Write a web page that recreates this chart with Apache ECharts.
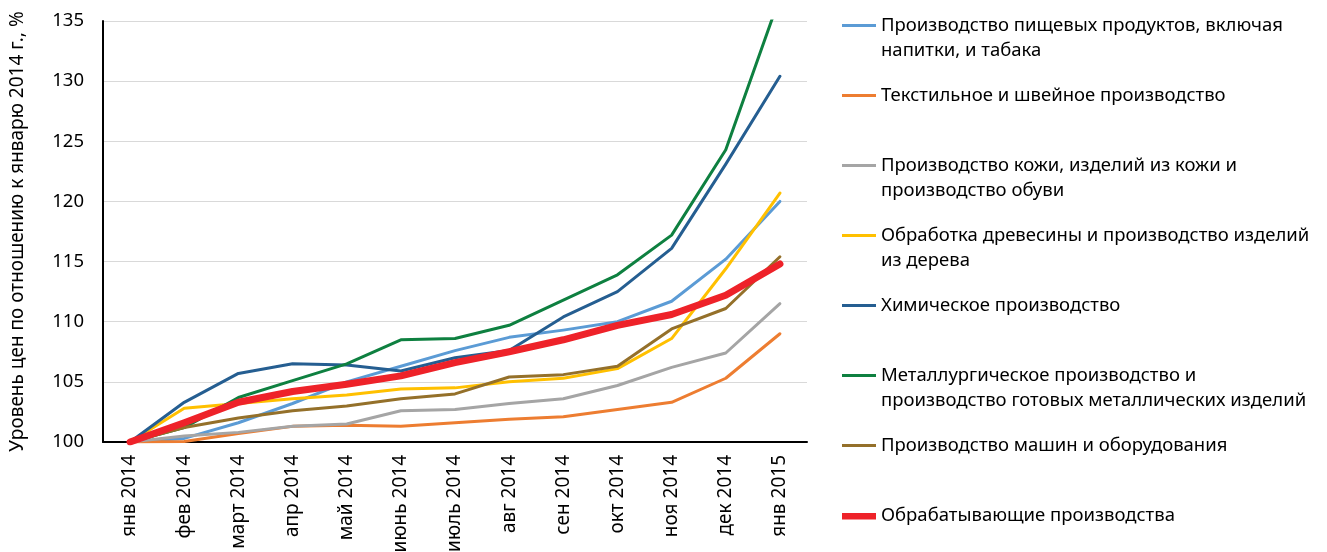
<!DOCTYPE html>
<html>
<head>
<meta charset="utf-8">
<title>Уровень цен</title>
<script src="https://cdn.jsdelivr.net/npm/echarts@6/dist/echarts.min.js"></script>
<style>
  html, body { margin: 0; padding: 0; background: #fff; }
  #chart { width: 1327px; height: 552px; }
</style>
</head>
<body>
<div id="chart"></div>
<script>
// месяцы по оси X
const months = ['янв 2014', 'фев 2014', 'март 2014', 'апр 2014', 'май 2014', 'июнь 2014',
  'июль 2014', 'авг 2014', 'сен 2014', 'окт 2014', 'ноя 2014', 'дек 2014', 'янв 2015']
const yTicks = [100, 105, 110, 115, 120, 125, 130, 135]

// значения, % к январю 2014
const food = [100, 100.3, 101.6, 103.2, 105.0, 106.3, 107.6, 108.7, 109.3, 110.0, 111.7, 115.2, 120.0]
const textile = [100, 100.05, 100.7, 101.3, 101.4, 101.3, 101.6, 101.9, 102.1, 102.7, 103.3, 105.3, 109.0]
const leather = [100, 100.5, 100.8, 101.3, 101.5, 102.6, 102.7, 103.2, 103.6, 104.7, 106.2, 107.4, 111.5]
const wood = [100, 102.8, 103.2, 103.6, 103.9, 104.4, 104.5, 105.0, 105.3, 106.1, 108.6, 114.4, 120.7]
const chemical = [100, 103.3, 105.7, 106.5, 106.4, 105.9, 107.0, 107.6, 110.4, 112.5, 116.1, 123.1, 130.4]
const metal = [100, 101.2, 103.7, 105.1, 106.5, 108.5, 108.6, 109.7, 111.8, 113.9, 117.2, 124.3, 137.0]
const machines = [100, 101.2, 102.0, 102.6, 103.0, 103.6, 104.0, 105.4, 105.6, 106.3, 109.4, 111.1, 115.4]
const manufacturing = [100, 101.6, 103.3, 104.2, 104.8, 105.5, 106.6, 107.5, 108.5, 109.7, 110.6, 112.2, 114.8]

const names = [
  'Производство пищевых продуктов, включая\nнапитки, и табака',
  'Текстильное и швейное производство',
  'Производство кожи, изделий из кожи и\nпроизводство обуви',
  'Обработка древесины и производство изделий\nиз дерева',
  'Химическое производство',
  'Металлургическое производство и\nпроизводство готовых металлических изделий',
  'Производство машин и оборудования',
  'Обрабатывающие производства'
]
const values = [food, textile, leather, wood, chemical, metal, machines, manufacturing]
const colors = ['#5B9BD5', '#ED7D31', '#A5A5A5', '#FFC000', '#255E91', '#0E8040', '#94702A', '#EE2229']
const widths = [3, 3, 3, 3, 3, 3, 3, 7]

const FONT = 'Noto Sans'

// иконка легенды: линия на уровне первой строки текста
const thinIcon = 'path://M0,0L0.01,0M0,11L34,11L34,14L0,14ZM0,50L0.01,50'
const thickIcon = 'path://M0,0L0.01,0M0,9L36,9L36,16L0,16ZM0,50L0.01,50'

const chart = echarts.init(document.getElementById('chart'))

const option = {
  animation: false,
  grid: { left: 103, right: 520, top: 21, bottom: 110, outerBoundsMode: 'none' },
  legend: {
    orient: 'vertical',
    left: 842,
    top: 13,
    height: 600,
    padding: 0,
    itemGap: 20,
    itemWidth: 34,
    itemHeight: 50,
    itemStyle: { borderWidth: 0 },
    selectedMode: false,
    data: names.map((n, i) => ({ name: n, icon: i === 7 ? thickIcon : thinIcon })),
    formatter: name => (name.indexOf('\n') < 0 ? name + '\n ' : name),
    textStyle: { fontFamily: FONT, fontSize: 18.5, lineHeight: 25, color: '#000' }
  },
  xAxis: {
    type: 'category',
    data: months,
    boundaryGap: true,
    axisLine: { lineStyle: { color: '#000', width: 2 } },
    axisTick: { show: false },
    axisLabel: { rotate: 90, interval: 0, margin: 13, fontFamily: FONT, fontSize: 19, color: '#000' }
  },
  yAxis: {
    type: 'value',
    min: yTicks[0],
    max: yTicks[yTicks.length - 1],
    interval: 5,
    name: 'Уровень цен по отношению к январю 2014 г., %',
    nameLocation: 'middle',
    nameGap: 76,
    nameTextStyle: { fontFamily: FONT, fontSize: 19, color: '#000' },
    axisLine: { show: true, lineStyle: { color: '#000', width: 2 } },
    axisTick: { show: false },
    axisLabel: { margin: 19, fontFamily: FONT, fontSize: 18.5, color: '#000' },
    splitLine: { lineStyle: { color: '#D9D9D9', width: 1 } }
  },
  series: values.map((v, i) => ({
    name: names[i],
    type: 'line',
    data: v,
    color: colors[i],
    symbol: 'none',
    clip: true,
    lineStyle: { width: widths[i], cap: 'round', join: 'round' },
    z: 2 + i
  }))
}

chart.setOption(option)
window.addEventListener('resize', () => chart.resize(), false)
</script>
</body>
</html>
